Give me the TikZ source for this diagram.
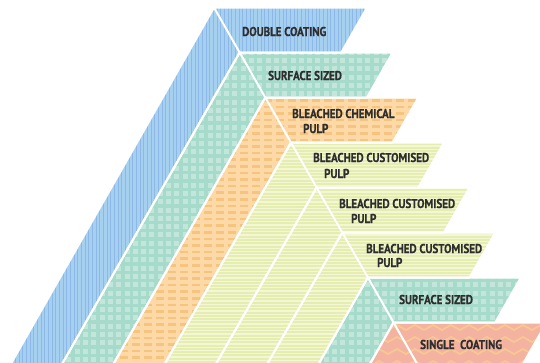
\documentclass[tikz,border=0pt]{standalone}
\usepackage{fontspec}
\newfontfamily\labfont[FakeStretch=0.86, FakeBold=0.6, BoldFont={PT Sans Bold}]{PT Sans}
\definecolor{bluebase}{HTML}{A6D0F0}
\definecolor{bluestripe}{HTML}{8CB7E6}
\definecolor{tealbase}{HTML}{A6DBCB}
\definecolor{tealsq}{HTML}{C3E6DA}
\definecolor{orbase}{HTML}{FCD9A7}
\definecolor{ordash}{HTML}{F6C47E}
\definecolor{grbase}{HTML}{E5EDB0}
\definecolor{grstripe}{HTML}{F3F7D4}
\definecolor{sabase}{HTML}{F3B3A0}
\definecolor{sazig}{HTML}{F8C893}
\definecolor{labcol}{HTML}{2E2E2E}
\tikzset{
  lab/.style={font=\labfont\bfseries\fontsize{12.8}{14}\selectfont, text=labcol, inner sep=0pt, anchor=base west},
  sep/.style={draw=white, line width=2pt, line join=round}
}
\newcommand\mylayer[3]{%
  \pgfmathtruncatemacro\nk{#1+1}%
  \begin{scope}
    \clip (B#1) -- (V#1) -- (T#1) -- (U#1) -- (V\nk) -- (B\nk) -- cycle;
    \fill[#2] (0,0) rectangle (545,375);
    #3
  \end{scope}
}
\newcommand\bluepat{%
  \foreach \x in {0,11,...,400} {
    \fill[bluestripe] (\x,0) rectangle ++(1.4,375);
    \fill[bluestripe] ({\x+4},0) rectangle ++(0.8,375);
    \fill[bluestripe] ({\x+7.5},0) rectangle ++(1.1,375);
  }}
\newcommand\tealpat{%
  \foreach \x in {0,8.3,...,545} {
    \foreach \y in {0,8.3,...,375} {
      \fill[tealsq] (\x,\y) rectangle ++(5,5);
    }}}
\newcommand\orpat{%
  \foreach \x in {0,12,...,545} {
    \foreach \y in {0,6.6,...,375} {
      \fill[ordash] (\x,\y) rectangle ++(8,2.6);
    }}}
\newcommand\grpat{%
  \foreach \y in {0,3.3,...,375} {
    \fill[grstripe] (0,\y) rectangle (545,{\y+1.3});
  }}
\newcommand\sapat{%
  \foreach \y in {318,330,...,380} {
    \draw[sazig, line width=1.8pt] (370,\y) \foreach \i in {1,...,10} { -- ++(9,-5) -- ++(9,5) };
  }}
\begin{document}
\begin{tikzpicture}[x=1pt,y=-1pt]
\useasboundingbox (0,0) rectangle (540,362);
\clip (0,0) rectangle (540,362);
\foreach \k in {0,...,8} {
  \coordinate (V\k) at ({214+25.65*\k},{7.5+45*\k});
  \coordinate (B\k) at ({214+25.65*\k-0.57*(375-7.5-45*\k)},375);
  \coordinate (T\k) at ({367+25.65*\k},{7.5+45*\k});
  \coordinate (U\k) at ({341.35+25.65*\k},{52.5+45*\k});
}
\mylayer{0}{bluebase}{\bluepat}
\mylayer{1}{tealbase}{\tealpat}
\mylayer{2}{orbase}{\orpat}
\mylayer{3}{grbase}{\grpat}
\mylayer{4}{grbase}{\grpat}
\mylayer{5}{grbase}{\grpat}
\mylayer{6}{tealbase}{\tealpat}
\mylayer{7}{sabase}{\sapat}
% separators
\foreach \k in {0,...,7} {
  \pgfmathtruncatemacro\nk{\k+1}
  \draw[sep] (B\k) -- (V\k) -- (T\k) -- (U\k) -- (V\nk) -- (B\nk);
  \draw[sep] (V\k) -- (V\nk);
}
% labels
\node[lab] (l0) at (242,36) {DOUBLE COATING};
\node[lab] (l1) at (268,80) {SURFACE SIZED};
\node[lab] (l2a) at (292,118) {BLEACHED CHEMICAL};
\node[lab] (l2b) at (303,133) {PULP};
\node[lab] (l3a) at (313,162) {BLEACHED CUSTOMISED};
\node[lab] (l3b) at (324,178) {PULP};
\node[lab] (l4a) at (339,208) {BLEACHED CUSTOMISED};
\node[lab] (l4b) at (351,223) {PULP};
\node[lab] (l5a) at (366,253) {BLEACHED CUSTOMISED};
\node[lab] (l5b) at (377,267) {PULP};
\node[lab] (l6) at (399,304) {SURFACE SIZED};
\node[lab] (l7) at (420,349) {SINGLE\ \ COATING};
\end{tikzpicture}
\end{document}
